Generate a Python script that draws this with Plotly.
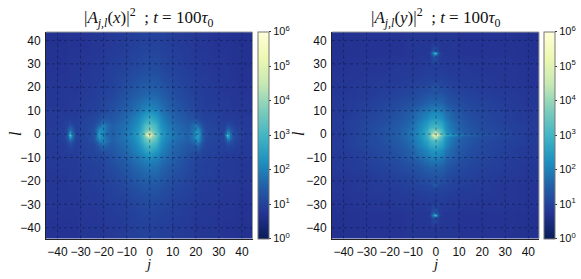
import plotly.graph_objects as go

W, H = 581, 279
tick_vals = [-40, -30, -20, -10, 0, 10, 20, 30, 40]
tick_text = ["\u221240", "\u221230", "\u221220", "\u221210", "0", "10", "20", "30", "40"]
cbar_vals = [0, 1, 2, 3, 4, 5, 6]
cbar_text = ["10<sup>%d</sup>" % v for v in cbar_vals]

# Bin edges of the estimated grid (finer round the features)
left_j = [-45,-38,-36,-35,-34,-33,-31,-25,-23,-21,-19,-14,-9,-5,-3,-1,0,1,3,5,9,14,19,20,22,23,25,31,33,34,35,37,45]
left_l = [-45,-32,-22,-15,-10,-7,-4,-2,-1,0,1,3,5,8,11,16,23,33,44]

# log10 |A|^2
left_log = [
 [.75,.75,.75,.75,.75,.75,.8, .8,.8,.8,.85,.9,.95,1.0,1.0, 1.0,1.0, 1.0,.95,.95,.9,.85,.8,.8,.8,.8, .8,.75,.75,.75,.75,.7],
 [.8,.8,.8,.8,.8,.8,.85, .85,.9,.9,.95,1.0,1.1,1.15,1.2, 1.2,1.2, 1.2,1.15,1.1,1.0,.95,.9,.9,.85,.85, .85,.8,.8,.8,.8,.75],
 [.8,.8,.85,.85,.85,.85,.9, .95,.95,1.0,1.05,1.2,1.4,1.5,1.55, 1.55,1.55, 1.55,1.5,1.35,1.2,1.05,1.0,.95,.95,.95, .9,.85,.85,.85,.85,.8],
 [.85,.85,.85,.85,.85,.85,.95, 1.0,1.0,1.05,1.2,1.4,1.65,1.8,1.9, 1.95,1.95, 1.9,1.8,1.6,1.4,1.15,1.0,1.0,1.0,.95, .95,.85,.85,.85,.85,.8],
 [.85,.9,.9,.9,.9,.9,1.0, 1.05,1.1,1.15,1.3,1.55,1.85,2.1,2.3, 2.5,2.5, 2.3,2.1,1.8,1.5,1.25,1.1,1.1,1.05,1.0, 1.0,.9,.9,.9,.9,.85],
 [.85,.9,1.0,1.05,1.0,.9,1.0, 1.1,1.35,1.6,1.4,1.65,2.0,2.4,2.8, 3.0,3.0, 2.8,2.4,1.95,1.6,1.35,1.4,1.5,1.2,1.05, 1.0,.95,1.05,1.05,1.0,.85],
 [.9,.95,1.3,1.5,1.3,.95,1.05, 1.3,1.9,2.1,1.5,1.75,2.1,2.65,3.3, 3.6,3.6, 3.3,2.65,2.05,1.7,1.5,1.9,2.1,1.5,1.15, 1.05,1.0,1.5,1.5,1.2,.9],
 [.9,1.0,1.6,2.3,1.6,1.0,1.05, 1.4,2.4,2.0,1.5,1.8,2.2,2.75,3.6, 4.1,4.0, 3.6,2.75,2.15,1.75,1.55,2.3,2.4,1.6,1.2, 1.05,1.05,2.2,2.2,1.3,.9],
 [.9,1.0,1.7,3.5,1.7,1.0,1.05, 1.4,2.5,1.95,1.5,1.8,2.2,2.85,4.0, 5.8,4.6, 3.8,2.85,2.2,1.8,1.55,2.4,2.5,1.6,1.2, 1.05,1.05,3.5,2.3,1.3,.9],
 [.9,1.0,1.6,2.8,1.6,1.0,1.05, 1.4,2.5,1.95,1.5,1.8,2.2,2.85,4.0, 5.0,4.3, 3.7,2.85,2.2,1.8,1.55,2.4,2.5,1.6,1.2, 1.05,1.05,2.7,2.1,1.3,.9],
 [.9,.95,1.4,1.7,1.4,.95,1.05, 1.35,2.2,2.1,1.5,1.75,2.15,2.65,3.4, 3.7,3.7, 3.3,2.65,2.1,1.7,1.5,2.1,2.2,1.5,1.15, 1.05,1.0,1.6,1.6,1.2,.9],
 [.85,.95,1.05,1.2,1.05,.95,1.05, 1.2,1.5,2.0,1.5,1.7,2.05,2.5,3.1, 3.3,3.3, 3.1,2.5,2.0,1.65,1.45,1.9,1.6,1.25,1.1, 1.0,.95,1.1,1.1,1.0,.85],
 [.85,.9,.9,.95,.9,.9,1.0, 1.1,1.2,1.4,1.35,1.6,1.95,2.3,2.6, 2.8,2.8, 2.6,2.3,1.85,1.55,1.3,1.25,1.15,1.05,1.0, 1.0,.9,.9,.9,.9,.85],
 [.85,.85,.85,.85,.85,.85,.95, 1.0,1.05,1.1,1.25,1.5,1.75,2.0,2.2, 2.3,2.3, 2.2,2.0,1.7,1.45,1.2,1.05,1.0,1.0,.95, .95,.85,.85,.85,.85,.8],
 [.8,.8,.85,.85,.85,.85,.9, .95,1.0,1.05,1.15,1.35,1.6,1.75,1.85, 1.9,1.9, 1.85,1.75,1.55,1.3,1.1,1.0,.95,.95,.9, .9,.85,.85,.85,.8,.8],
 [.8,.8,.8,.8,.8,.8,.85, .9,.95,.95,1.0,1.2,1.35,1.45,1.5, 1.5,1.5, 1.5,1.45,1.3,1.15,1.0,.95,.95,.9,.9, .85,.8,.8,.8,.8,.75],
 [.75,.75,.75,.8,.8,.8,.8, .85,.85,.9,.95,1.0,1.1,1.15,1.2, 1.2,1.2, 1.2,1.15,1.05,1.0,.9,.9,.85,.85,.85, .8,.8,.8,.75,.75,.7],
 [.7,.7,.75,.75,.75,.75,.75, .8,.8,.8,.85,.9,.95,1.0,1.0, 1.0,1.0, 1.0,1.0,.95,.9,.85,.8,.8,.8,.8, .75,.75,.75,.75,.7,.7],
]

right_j = [-45,-35,-25,-18,-13,-9,-6,-4,-3,-2,-1,0,1,2,3,4,6,9,13,18,25,35,45]
right_l = [-45,-36,-35,-34,-33,-25,-22,-21,-16,-11,-7,-5,-3,-2,-1,0,1,2,3,5,7,11,16,20,21,24,33,34,35,36,44]

# log10 |A|^2
right_log = [
 [.7,.75,.75,.75,.8,.8,.8,.8,.8,.8, .8,.8, .8,.8,.8,.8,.8,.75,.75,.75,.75,.7],
 [.7,.75,.75,.75,.8,.8,.8,.8,.85,1.4, 1.5,1.3, .85,.8,.8,.8,.8,.75,.75,.75,.75,.7],
 [.7,.75,.75,.75,.8,.8,.8,.85,1.0,1.9, 3.2,1.9, 1.0,.85,.8,.8,.8,.75,.75,.75,.75,.7],
 [.7,.75,.75,.75,.8,.8,.8,.8,.85,1.4, 1.6,1.3, .85,.8,.8,.8,.8,.75,.75,.75,.75,.7],
 [.75,.8,.8,.85,.85,.85,.9,.9,.9,.9, .9,.9, .9,.9,.9,.85,.85,.85,.8,.8,.8,.75],
 [.8,.85,.9,.9,.95,1.0,1.0,1.05,1.05,1.05, 1.1,1.05, 1.05,1.05,1.0,1.0,.95,.9,.9,.85,.8,.75],
 [.8,.85,.9,.95,1.0,1.05,1.1,1.1,1.1,1.3, 1.6,1.3, 1.1,1.1,1.1,1.05,1.0,.95,.9,.85,.8,.75],
 [.8,.85,.95,1.0,1.05,1.15,1.2,1.25,1.25,1.25, 1.3,1.25, 1.25,1.25,1.2,1.15,1.05,1.0,.95,.9,.85,.8],
 [.85,.95,1.05,1.15,1.25,1.35,1.5,1.55,1.6,1.6, 1.65,1.6, 1.6,1.55,1.5,1.35,1.25,1.15,1.05,1.0,.9,.8],
 [.85,1.0,1.15,1.3,1.5,1.75,1.9,2.0,2.1,2.15, 2.2,2.15, 2.1,2.0,1.9,1.7,1.5,1.3,1.15,1.05,.95,.85],
 [.9,1.05,1.2,1.4,1.6,1.9,2.15,2.35,2.45,2.55, 2.6,2.55, 2.45,2.35,2.15,1.9,1.6,1.4,1.2,1.1,.95,.85],
 [.9,1.1,1.25,1.45,1.7,2.05,2.35,2.6,2.75,2.9, 3.0,2.9, 2.75,2.6,2.35,2.05,1.7,1.45,1.25,1.1,1.0,.9],
 [.9,1.1,1.3,1.5,1.75,2.1,2.5,2.8,3.05,3.25, 3.4,3.25, 3.05,2.8,2.5,2.1,1.75,1.5,1.3,1.15,1.0,.9],
 [.9,1.1,1.3,1.5,1.8,2.15,2.6,3.0,3.35,3.8, 4.3,3.9, 3.35,3.0,2.6,2.15,1.8,1.5,1.3,1.15,1.05,.9],
 [.9,1.1,1.3,1.55,1.8,2.2,2.65,3.1,3.6,4.5, 5.9,4.8, 4.0,3.4,3.0,2.6,2.2,1.8,1.5,1.3,1.1,.9],
 [.9,1.1,1.3,1.55,1.8,2.2,2.65,3.1,3.5,4.0, 4.7,4.2, 3.7,3.2,2.8,2.3,1.9,1.6,1.35,1.2,1.05,.9],
 [.9,1.1,1.3,1.5,1.8,2.15,2.6,3.0,3.35,3.6, 3.9,3.65, 3.35,3.0,2.6,2.15,1.8,1.5,1.3,1.15,1.05,.9],
 [.9,1.1,1.3,1.5,1.75,2.1,2.5,2.8,3.05,3.2, 3.3,3.2, 3.05,2.8,2.5,2.1,1.75,1.5,1.3,1.15,1.0,.9],
 [.9,1.1,1.25,1.45,1.7,2.05,2.35,2.6,2.75,2.85, 2.95,2.85, 2.75,2.6,2.35,2.05,1.7,1.45,1.25,1.1,1.0,.9],
 [.9,1.05,1.2,1.4,1.6,1.9,2.15,2.35,2.45,2.55, 2.6,2.55, 2.45,2.35,2.15,1.9,1.6,1.4,1.2,1.1,.95,.85],
 [.85,1.0,1.15,1.3,1.5,1.75,1.9,2.0,2.1,2.15, 2.2,2.15, 2.1,2.0,1.9,1.7,1.5,1.3,1.15,1.05,.95,.85],
 [.85,.95,1.05,1.15,1.25,1.35,1.5,1.55,1.6,1.6, 1.65,1.6, 1.6,1.55,1.5,1.35,1.25,1.15,1.05,1.0,.9,.8],
 [.8,.85,.95,1.0,1.05,1.15,1.2,1.25,1.25,1.25, 1.3,1.25, 1.25,1.25,1.2,1.15,1.05,1.0,.95,.9,.85,.8],
 [.8,.85,.9,.95,1.0,1.05,1.1,1.1,1.1,1.3, 1.6,1.3, 1.1,1.1,1.1,1.05,1.0,.95,.9,.85,.8,.75],
 [.8,.85,.9,.9,.95,1.0,1.0,1.05,1.05,1.05, 1.05,1.05, 1.05,1.05,1.0,1.0,.95,.9,.9,.85,.8,.75],
 [.75,.8,.8,.85,.85,.85,.9,.9,.9,.9, .9,.9, .9,.9,.9,.85,.85,.85,.8,.8,.8,.75],
 [.7,.75,.75,.75,.8,.8,.8,.8,.85,1.4, 1.7,1.3, .85,.8,.8,.8,.8,.75,.75,.75,.75,.7],
 [.7,.75,.75,.75,.8,.8,.8,.85,1.0,1.9, 3.2,1.9, 1.0,.85,.8,.8,.8,.75,.75,.75,.75,.7],
 [.7,.75,.75,.75,.8,.8,.8,.8,.85,1.4, 1.6,1.3, .85,.8,.8,.8,.8,.75,.75,.75,.75,.7],
 [.7,.75,.75,.75,.8,.8,.8,.8,.8,.8, .8,.8, .8,.8,.8,.8,.8,.75,.75,.75,.75,.7],
]

colors = ["#081d58", "#253494", "#225ea8", "#1d91c0", "#41b6c4", "#7fcdbb", "#c7e9b4", "#edf8b1", "#ffffd9"]
scale = [[i / 8, c] for i, c in enumerate(colors)]

SERIF = "Liberation Serif"
SANS = "Liberation Sans"
GRID = dict(color="rgba(10,15,50,0.6)", width=0.7, dash="dot")

def px_x(p): return p / W
def px_y(p): return 1 - p / H

panels = [
    dict(j=left_j, l=left_l, z=left_log, xa="x", ya="y", dom=(46, 252.5), cb=257.5,
         title="|<i>A<sub>j,l</sub></i>(<i>x</i>)|<sup>2</sup>  ; <i>t</i> = 100<i>\u03c4</i><sub>0</sub>", ylab=15),
    dict(j=right_j, l=right_l, z=right_log, xa="x2", ya="y2", dom=(332, 539), cb=543.5,
         title="|<i>A<sub>j,l</sub></i>(<i>y</i>)|<sup>2</sup>  ; <i>t</i> = 100<i>\u03c4</i><sub>0</sub>", ylab=298),
]

fig = go.Figure()
TOP, BOT = 32, 238.5
for p in panels:
    fig.add_trace(go.Heatmap(
        x=p["j"], y=p["l"], z=p["z"], xaxis=p["xa"], yaxis=p["ya"],
        colorscale=scale, zmin=0, zmax=6, hoverinfo="skip", zsmooth="best",
        colorbar=dict(
            x=px_x(p["cb"]), xanchor="left", y=px_y(BOT), yanchor="bottom",
            lenmode="fraction", len=(BOT - TOP) / H, thicknessmode="pixels", thickness=10.5,
            xpad=0, ypad=0, outlinecolor="#777777", outlinewidth=1,
            tickmode="array", tickvals=cbar_vals, ticktext=cbar_text,
            ticks="outside", ticklen=2, tickcolor="#333333",
            tickfont=dict(family=SANS, size=11, color="#111111"),
        ),
    ))
    mid = (p["dom"][0] + p["dom"][1]) / 2
    fig.add_annotation(x=px_x(mid), y=px_y(18), xref="paper", yref="paper", text=p["title"],
                       xanchor="center", yanchor="middle",
                       showarrow=False, font=dict(family=SERIF, size=17, color="#111111"))
    fig.add_annotation(x=px_x(mid - 1), y=px_y(264), xref="paper", yref="paper", text="<i>j</i>",
                       xanchor="center", yanchor="middle",
                       showarrow=False, font=dict(family=SERIF, size=15, color="#111111"))
    fig.add_annotation(x=px_x(p["ylab"]), y=px_y(134), xref="paper", yref="paper", text="<i>l</i>", textangle=-90,
                       xanchor="center", yanchor="middle",
                       showarrow=False, font=dict(family=SERIF, size=16, color="#111111"))
    # dotted grid above the image
    for t in tick_vals:
        fig.add_shape(type="line", xref=p["xa"], yref=p["ya"] + " domain", x0=t, x1=t, y0=0, y1=1,
                      line=GRID, layer="above")
        fig.add_shape(type="line", xref=p["xa"] + " domain", yref=p["ya"], x0=0, x1=1, y0=t, y1=t,
                      line=GRID, layer="above")
    # pale top and right spines
    fig.add_shape(type="line", xref=p["xa"] + " domain", yref=p["ya"] + " domain", x0=0, x1=1, y0=1, y1=1,
                  line=dict(color="#9a9a9a", width=1), layer="above")
    fig.add_shape(type="line", xref=p["xa"] + " domain", yref=p["ya"] + " domain", x0=1, x1=1, y0=0, y1=1,
                  line=dict(color="#9a9a9a", width=1), layer="above")

axis_x = dict(range=[-45, 44.6], tickmode="array", tickvals=tick_vals, ticktext=tick_text,
              showgrid=False, zeroline=False, showline=True, linecolor="#222222", linewidth=1,
              ticks="", ticklabelstandoff=2, tickfont=dict(family=SANS, size=12, color="#111111"))
axis_y = dict(axis_x, range=[-44.6, 43.6])

fig.update_layout(
    width=W, height=H, autosize=False, margin=dict(l=0, r=0, t=0, b=0),
    paper_bgcolor="white", plot_bgcolor="white", showlegend=False,
    xaxis=dict(axis_x, domain=[px_x(46), px_x(252.5)], anchor="y"),
    yaxis=dict(axis_y, domain=[px_y(BOT), px_y(TOP)], anchor="x"),
    xaxis2=dict(axis_x, domain=[px_x(332), px_x(539)], anchor="y2"),
    yaxis2=dict(axis_y, domain=[px_y(BOT), px_y(TOP)], anchor="x2"),
)

fig.write_html("out.html", config={"displayModeBar": False},
               post_script="document.body.style.margin='0';document.documentElement.style.overflow='hidden';")
